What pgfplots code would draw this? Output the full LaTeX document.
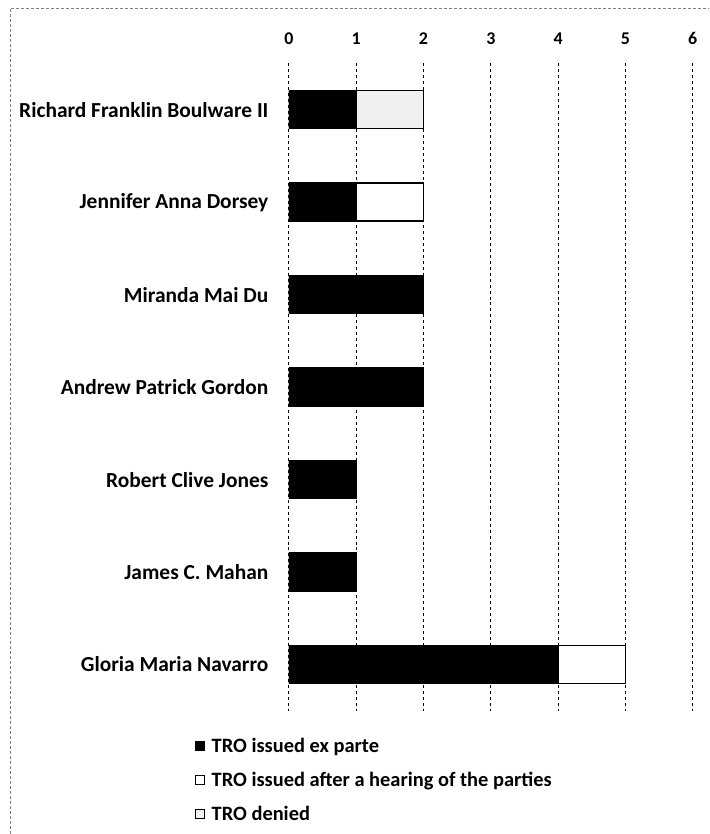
\documentclass[border=0pt]{standalone}
\usepackage{fontspec}
\setmainfont{Carlito}
\usepackage{pgfplots}
\pgfplotsset{compat=1.18}
\begin{document}
\begin{tikzpicture}[x=1bp,y=1bp]
\begin{axis}[
  anchor=south west,
  scale only axis, width=404bp, height=647.5bp,
  xbar stacked, bar width=38bp,
  xmin=0, xmax=6, ymin=-0.5, ymax=6.5,
  y dir=reverse,
  xtick={0,...,6},
  xticklabel pos=top,
  ytick={0,...,6},
  yticklabels={Richard Franklin Boulware II, Jennifer Anna Dorsey, Miranda Mai Du, Andrew Patrick Gordon, Robert Clive Jones, James C. Mahan, Gloria Maria Navarro},
  tick label style={font=\fontsize{21.5}{23}\selectfont\bfseries},
  xticklabel style={font=\fontsize{18}{20}\selectfont\bfseries, yshift=15bp},
  /pgf/number format/assume math mode=true,
  yticklabel style={xshift=-17bp},
  major tick length=0pt,
  axis line style={draw=none},
  xmajorgrids, major grid style={black, dashed, line width=0.8bp},
  legend style={at={(-0.241,-0.036)}, anchor=north west, draw=none, fill=none,
    font=\fontsize{20.5}{22}\selectfont\bfseries, cells={anchor=west},
    row sep=14bp},
  legend image code/.code={\draw[#1, line width=1bp] (0bp,-4.5bp) rectangle (9bp,4.5bp);},
]
\addplot[fill=black, draw=black, line width=1.5bp] coordinates {(1,0) (1,1) (2,2) (2,3) (1,4) (1,5) (4,6)};
\addplot[fill=white, draw=black, line width=1.5bp] coordinates {(0,0) (1,1) (0,2) (0,3) (0,4) (0,5) (1,6)};
\addplot[fill=gray!12, draw=black, line width=1.5bp] coordinates {(1,0) (0,1) (0,2) (0,3) (0,4) (0,5) (0,6)};
\legend{\hspace*{5bp}TRO issued ex parte, \hspace*{5bp}TRO issued after a hearing of the parties, \hspace*{5bp}TRO denied}
\end{axis}
\draw[densely dashed, gray, line width=0.6bp] (-279,-123) -- (-279,703) -- (420,703);
\useasboundingbox (-289,-123) rectangle (420,711);
\end{tikzpicture}
\end{document}
